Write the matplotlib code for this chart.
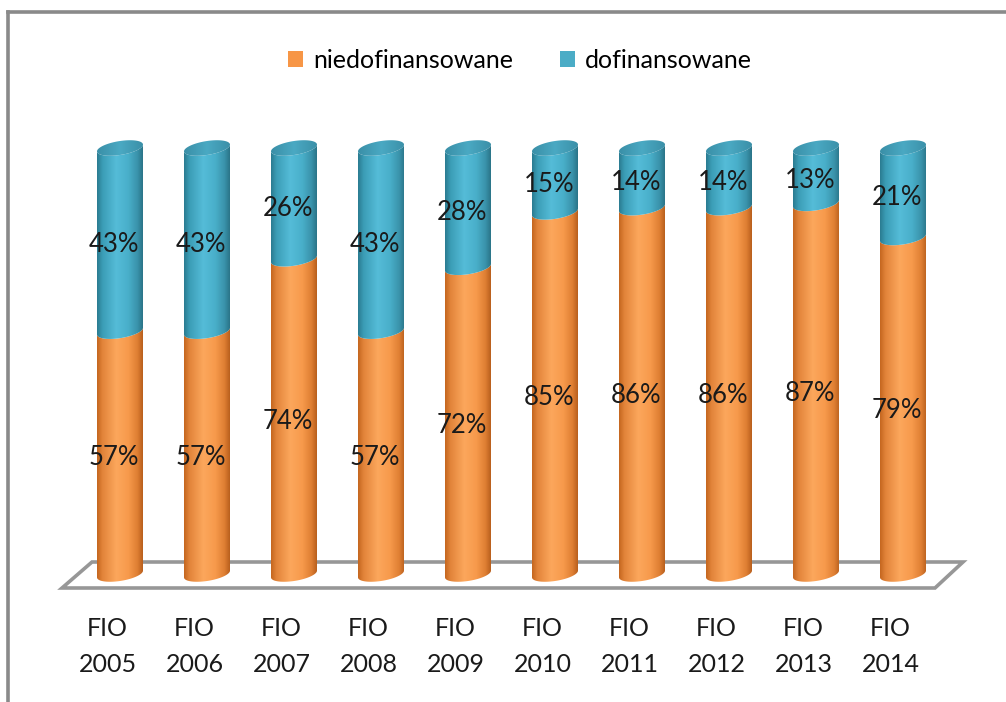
import numpy as np
import matplotlib
matplotlib.use("Agg")
import matplotlib.pyplot as plt
from matplotlib.path import Path
from matplotlib.patches import PathPatch, Patch
from matplotlib.colors import LinearSegmentedColormap
from matplotlib.lines import Line2D

plt.rcParams['font.family'] = ['Lato', 'DejaVu Sans']

# ---- data ----
years = ["2005", "2006", "2007", "2008", "2009", "2010", "2011", "2012", "2013", "2014"]
categories = ["FIO\n" + y for y in years]
niedofinansowane = [57, 57, 74, 57, 72, 85, 86, 86, 87, 79]
dofinansowane = [43, 43, 26, 43, 28, 15, 14, 14, 13, 21]
series_names = ["niedofinansowane", "dofinansowane"]

# ---- styling ----
W, H = 1006, 702
fig = plt.figure(figsize=(W / 100, H / 100), dpi=100)
ax = fig.add_axes([0, 0, 1, 1])
ax.set_axis_off()

# pixel mapping: x index 0 -> px 120, step 87 ; pct 0 -> py 574, 100 -> py ~148
x0px, dxpx = 120.0, 87.0
y0px, ppx = 574.0, 4.26
xlim = (-x0px / dxpx, (W - x0px) / dxpx)
ylim = ((y0px - H) / ppx, y0px / ppx)

half_w = 23.0 / dxpx          # cylinder radius in x units
b_ell = 7.0 / ppx             # ellipse semi-minor in pct units
shear = 3.0                   # pct per x-unit, right side higher

orange_cmap = LinearSegmentedColormap.from_list("o", [
    (0.0, "#c4661f"), (0.12, "#e2843a"), (0.42, "#fca75c"),
    (0.68, "#f79a4c"), (0.88, "#df7f33"), (1.0, "#b85f1d")])
teal_cmap = LinearSegmentedColormap.from_list("t", [
    (0.0, "#2a7b90"), (0.12, "#3b9db6"), (0.42, "#55bcd8"),
    (0.68, "#49afca"), (0.88, "#3a93ab"), (1.0, "#2a7488")])
top_cmap = LinearSegmentedColormap.from_list("tp", [
    (0.0, "#3a8fa7"), (0.5, "#4aa9c3"), (1.0, "#3b90a8")])

grad = np.linspace(0, 1, 256).reshape(1, -1)


def arc(cx, cy, t0, t1, n=60):
    t = np.linspace(t0, t1, n)
    xs = cx + half_w * np.cos(t)
    ys = cy + b_ell * np.sin(t) + shear * (xs - cx)
    return np.column_stack([xs, ys])


def clipped_gradient(verts, cx, cmap, z):
    codes = [Path.MOVETO] + [Path.LINETO] * (len(verts) - 2) + [Path.CLOSEPOLY]
    patch = PathPatch(Path(verts, codes), facecolor="none", edgecolor="none", zorder=z)
    ax.add_patch(patch)
    ext = [cx - half_w, cx + half_w, verts[:, 1].min() - 1, verts[:, 1].max() + 1]
    im = ax.imshow(grad, extent=ext, aspect="auto", cmap=cmap, interpolation="bilinear", zorder=z)
    im.set_clip_path(patch)


def side_segment(cx, ylo, yhi, cmap, z):
    lower = arc(cx, ylo, np.pi, 2 * np.pi)
    upper = arc(cx, yhi, 2 * np.pi, np.pi)
    clipped_gradient(np.vstack([lower, upper, lower[:1]]), cx, cmap, z)


def top_face(cx, cy, z):
    full = arc(cx, cy, 0, 2 * np.pi, 120)
    clipped_gradient(full, cx, top_cmap, z)


# floor parallelogram
fl_bl = ((62 - x0px) / dxpx, (y0px - 588) / ppx)
fl_br = ((935 - x0px) / dxpx, (y0px - 588) / ppx)
fl_tr = ((963 - x0px) / dxpx, (y0px - 562) / ppx)
fl_tl = ((92 - x0px) / dxpx, (y0px - 562) / ppx)
floor = np.array([fl_bl, fl_br, fl_tr, fl_tl, fl_bl])
ax.fill(floor[:, 0], floor[:, 1], facecolor="white", edgecolor="#979797", linewidth=2.6, zorder=1)

label_off = (-4.3, -3.6)   # points
xs = np.arange(len(categories))
for i, (a, b) in enumerate(zip(niedofinansowane, dofinansowane)):
    z = 3 + i
    side_segment(xs[i], 0, a, orange_cmap, z)
    side_segment(xs[i], a, a + b, teal_cmap, z)
    top_face(xs[i], a + b, z + 0.5)
    ax.annotate(f"{a}%", (xs[i], a / 2), xytext=label_off, textcoords="offset points",
                ha="center", va="center", fontsize=18.5, color="#1a1a1a", zorder=20)
    ax.annotate(f"{b}%", (xs[i], a + b / 2), xytext=label_off, textcoords="offset points",
                ha="center", va="center", fontsize=18.5, color="#1a1a1a", zorder=20)

label_y = (y0px - 646.5) / ppx
for i, c in enumerate(categories):
    ax.annotate(c, (xs[i], label_y), xytext=(-9.0, 0), textcoords="offset points",
                ha="center", va="center", fontsize=18, color="#1a1a1a", linespacing=1.72)

ax.set_xlim(*xlim)
ax.set_ylim(*ylim)

handles = [Patch(facecolor="#f79646", edgecolor="none"), Patch(facecolor="#4bacc6", edgecolor="none")]
fig.legend(handles, series_names, loc="center", bbox_to_anchor=(0.517, 1 - 60 / H), ncol=2,
           frameon=False, fontsize=18, handlelength=0.6, handleheight=0.6, handletextpad=0.4,
           columnspacing=1.9)

# chart border (top + left visible)
fig.add_artist(Line2D([8 / W, 8 / W], [0, 1 - 12 / H], transform=fig.transFigure, color="#8a8a8a", lw=2.6))
fig.add_artist(Line2D([8 / W, 1], [1 - 12 / H, 1 - 12 / H], transform=fig.transFigure, color="#8a8a8a", lw=2.6))

fig.savefig("out.png", dpi=100, facecolor="white")
